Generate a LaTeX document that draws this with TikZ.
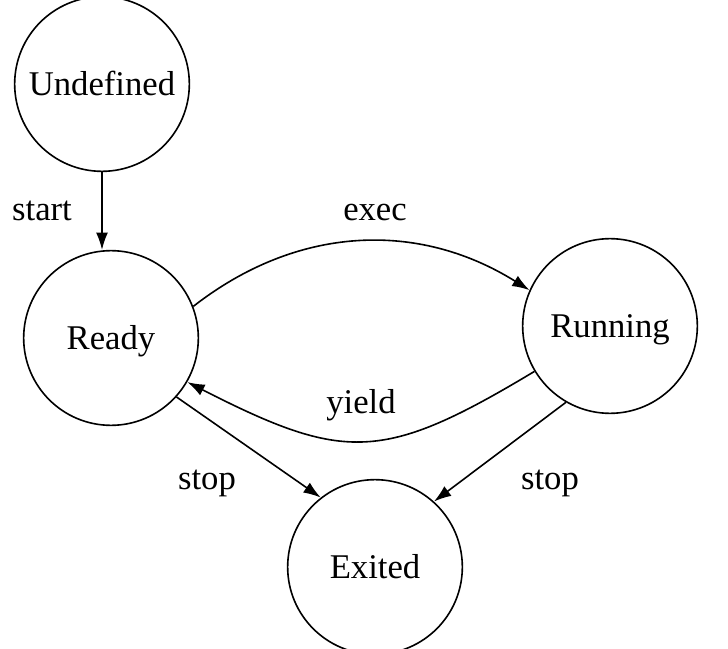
\documentclass[tikz,border=0pt]{standalone}
\usepackage{fontspec}
\setmainfont{Liberation Serif}
\usetikzlibrary{arrows.meta}
\tikzset{
  state/.style={draw, circle, line width=1.2pt, minimum size=131pt, inner sep=0pt,
    font=\fontsize{26}{30}\selectfont, text height=17pt, text depth=0pt},
  lbl/.style={anchor=base, inner sep=0pt, font=\fontsize{26}{30}\selectfont},
  conn/.style={line width=1.2pt, -{Latex[length=13pt,width=9pt]}}
}
\begin{document}
\begin{tikzpicture}[x=0.75pt,y=0.75pt]
\useasboundingbox[fill=white] (0,0) rectangle (728,-649);
\node[state] (U) at (102,-84) {Undefined};
\node[state] (R) at (111,-338) {Ready};
\node[state] (N) at (610,-326) {Running};
\node[state] (E) at (375,-567) {Exited};

\draw[conn] (U.south) -- (U.south |- R.north);
\draw[conn] (R.21) to[out=38,in=148] (N.156);
\draw[conn] (N.211) to[out=211,in=-27,looseness=1.3] (R.330);
\draw[conn] (R.318) -- (E.128);
\draw[conn] (N.240) -- (E.48);

\node[lbl] (lstart) at (42,-220) {start};
\node[lbl] (lexec) at (375,-220) {exec};
\node[lbl] (lyield) at (361,-413) {yield};
\node[lbl] (lstop1) at (207,-489) {stop};
\node[lbl] (lstop2) at (550,-489) {stop};
\end{tikzpicture}
\end{document}
